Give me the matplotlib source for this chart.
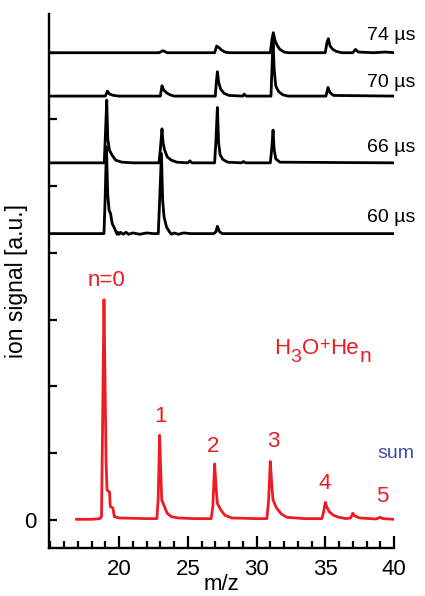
import matplotlib
matplotlib.use("Agg")
import matplotlib.pyplot as plt
from matplotlib.ticker import MultipleLocator, FixedLocator

plt.rcParams['font.family'] = ['Liberation Sans', 'DejaVu Sans']

# ---------------- data ----------------
# Summed spectrum (red), y in tick units (0 = baseline)
sum_mz = [16.9, 18.0, 18.6, 18.72, 18.82, 18.9, 18.97, 19.05, 19.12, 19.3, 19.36, 19.55, 19.65,
          20.0, 21.0, 22.0, 22.75, 22.84, 22.95, 23.02, 23.1, 23.3, 23.5, 23.8, 24.3, 25.5,
          26.7, 26.82, 26.95, 27.05, 27.15, 27.4, 27.7, 28.2, 30.0, 30.75, 30.88, 31.0, 31.1,
          31.2, 31.45, 31.8, 32.2, 33.5, 34.75, 34.88, 35.0, 35.1, 35.3, 35.6, 36.0, 36.5,
          36.85, 37.0, 37.15, 37.5, 38.7, 39.0, 39.2, 40.0]
sum_sig = [0.01, 0.01, 0.02, 0.05, 1.8, 3.30, 2.2, 0.9, 0.45, 0.42, 0.2, 0.18, 0.05,
           0.03, 0.025, 0.02, 0.02, 0.3, 1.27, 0.8, 0.3, 0.2, 0.1, 0.05, 0.03, 0.02,
           0.02, 0.2, 0.84, 0.5, 0.25, 0.15, 0.07, 0.03, 0.02, 0.02, 0.3, 0.875, 0.55,
           0.3, 0.18, 0.09, 0.04, 0.02, 0.02, 0.12, 0.265, 0.2, 0.12, 0.07, 0.04, 0.02,
           0.03, 0.1, 0.06, 0.03, 0.015, 0.04, 0.02, 0.01]

# Delay-resolved spectra (black); signal relative to each trace's own baseline
t60_base = 4.29
t60_mz = [15.0, 18.9, 18.98, 19.08, 19.17, 19.27, 19.38, 19.5, 19.62, 19.75, 19.85, 19.9, 20.0,
          20.1, 20.3, 20.5, 20.7, 21.0, 21.5, 22.0, 22.5, 22.85, 22.95, 23.08, 23.17, 23.27,
          23.45, 23.65, 23.8, 24.0, 24.3, 24.7, 25.2, 26.9, 27.05, 27.15, 27.3, 27.5, 40.0]
t60_sig = [0.0, 0.0, 0.5, 1.3, 0.6, 0.35, 0.3, 0.15, 0.1, 0.04, -0.01, 0.02, -0.01,
           0.02, -0.01, 0.02, -0.01, 0.01, -0.01, 0.01, 0.0, 0.0, 0.5, 1.2, 0.5, 0.25,
           0.1, 0.03, -0.01, 0.01, -0.01, 0.01, 0.0, 0.0, 0.03, 0.11, 0.03, 0.0, 0.0]

t66_base = 5.35
t66_mz = [15.0, 18.92, 19.0, 19.1, 19.18, 19.3, 19.5, 19.75, 20.2, 21.0, 22.9, 23.0, 23.12,
          23.2, 23.3, 23.5, 23.8, 24.2, 25.0, 25.15, 25.3, 26.95, 27.05, 27.15, 27.24, 27.35,
          27.55, 27.9, 28.9, 29.05, 29.2, 31.0, 31.1, 31.2, 31.28, 31.4, 31.7, 40.0]
t66_sig = [0.0, 0.0, 0.4, 0.94, 0.35, 0.19, 0.11, 0.04, 0.01, 0.0, 0.0, 0.2, 0.51,
           0.3, 0.2, 0.09, 0.04, 0.01, 0.0, 0.03, 0.0, 0.0, 0.35, 0.83, 0.3, 0.12,
           0.05, 0.01, 0.0, 0.02, 0.0, 0.0, 0.2, 0.49, 0.2, 0.06, 0.01, 0.0]

t70_base = 6.35
t70_mz = [15.0, 19.0, 19.15, 19.3, 19.6, 20.0, 23.0, 23.12, 23.25, 23.45, 23.7, 24.0, 27.0,
          27.07, 27.15, 27.25, 27.4, 27.65, 28.0, 29.0, 29.1, 29.25, 31.05, 31.12, 31.2,
          31.28, 31.4, 31.6, 31.9, 32.3, 35.05, 35.2, 35.35, 35.6, 40.0]
t70_sig = [0.0, 0.0, 0.075, 0.03, 0.01, 0.0, 0.0, 0.155, 0.09, 0.05, 0.02, 0.0, 0.0,
           0.2, 0.365, 0.2, 0.1, 0.04, 0.01, 0.0, 0.03, 0.0, 0.0, 0.4, 0.85,
           0.4, 0.15, 0.07, 0.02, 0.0, 0.0, 0.13, 0.05, 0.01, 0.0]

t74_base = 7.0
t74_mz = [15.0, 22.9, 23.2, 23.5, 26.95, 27.1, 27.25, 27.45, 27.7, 28.0, 31.0, 31.12, 31.22,
          31.35, 31.5, 31.7, 32.0, 32.3, 35.0, 35.12, 35.22, 35.35, 35.55, 35.8, 36.2, 37.0,
          37.2, 37.4, 38.5, 39.4, 40.0]
t74_sig = [0.0, 0.0, 0.03, 0.0, 0.0, 0.1, 0.08, 0.04, 0.01, 0.0, 0.0, 0.2, 0.3,
           0.18, 0.11, 0.05, 0.01, 0.0, 0.0, 0.15, 0.21, 0.1, 0.05, 0.02, 0.0, 0.0,
           0.05, 0.01, 0.0, 0.01, 0.0]

delay_labels = ["60 \u00b5s", "66 \u00b5s", "70 \u00b5s", "74 \u00b5s"]
peak_labels = ["n=0", "1", "2", "3", "4", "5"]
peak_label_mz = [19.05, 22.98, 26.84, 31.2, 34.98, 39.13]
peak_label_y = [3.59, 1.55, 1.10, 1.18, 0.54, 0.35]
x_tick_values = [20, 25, 30, 35, 40]
# formula label pieces: (text, vertical shift in pt, font size)
formula_pieces = [("H", 0, 16), ("3", -4.5, 14), ("O", 0, 16), ("+", 4.0, 13),
                  ("He", 0, 16), ("n", -5.0, 15)]

RED = '#ed1c24'
BLUE = '#3b4ea3'

fig = plt.figure(figsize=(4.25, 5.96), dpi=100)
ax = fig.add_axes([49/425, 1-548/596, 345/425, 534/596])

traces = [(t60_mz, t60_sig, t60_base), (t66_mz, t66_sig, t66_base),
          (t70_mz, t70_sig, t70_base), (t74_mz, t74_sig, t74_base)]
for mz, sig, base in traces:
    ax.plot(mz, [base + s for s in sig], color='black', lw=2.0, solid_joinstyle='round')

ax.plot(sum_mz, sum_sig, color=RED, lw=2.0, solid_joinstyle='round')

ax.set_xlim(14.9, 40.0)
ax.set_ylim(-0.42, 7.58)

for lab, (mz, sig, base), dy in zip(delay_labels, traces, [0.24, 0.23, 0.2, 0.26]):
    ax.text(41.55, base + dy, lab, ha='right', va='center', fontsize=14, clip_on=False)

for lab, x, y in zip(peak_labels, peak_label_mz, peak_label_y):
    ax.text(x, y, lab, ha='center', va='center', fontsize=16, color=RED)

# chemical formula H3O+Hen built from pieces, left edge at m/z ~31.3
prev = None
prev_shift = 0
for txt, shift, size in formula_pieces:
    if prev is None:
        prev = ax.text(31.25, 2.48, txt, ha='left', va='baseline', fontsize=size, color=RED)
    else:
        prev = ax.annotate(txt, xy=(1, 0), xycoords=prev, xytext=(0.3, shift - prev_shift),
                           textcoords='offset points', ha='left', va='bottom',
                           fontsize=size, color=RED)
    prev_shift = shift

ax.text(40.15, 1.0, 'sum', ha='center', va='center', fontsize=14, color=BLUE,
        clip_on=False)

for s in ['top', 'right']:
    ax.spines[s].set_visible(False)
for s in ['left', 'bottom']:
    ax.spines[s].set_linewidth(1.7)

ax.xaxis.set_major_locator(FixedLocator(x_tick_values))
ax.xaxis.set_minor_locator(MultipleLocator(1))
ax.yaxis.set_major_locator(FixedLocator(list(range(0, 8))))
ax.set_yticklabels(['0'] + [''] * 7)
ax.tick_params(axis='x', which='major', direction='in', length=9, width=1.6,
               labelsize=16, pad=8)
ax.tick_params(axis='x', which='minor', direction='in', length=5, width=1.6)
ax.tick_params(axis='y', which='major', direction='in', length=5.5, width=1.6,
               labelsize=16, pad=9)

ax.set_xlabel('m/z', fontsize=16)
ax.xaxis.set_label_coords(0.5, -0.048)
ax.set_ylabel('ion signal [a.u.]', fontsize=16.5)
ax.yaxis.set_label_coords(-0.061, 0.5)

fig.savefig('out.png', dpi=100)
